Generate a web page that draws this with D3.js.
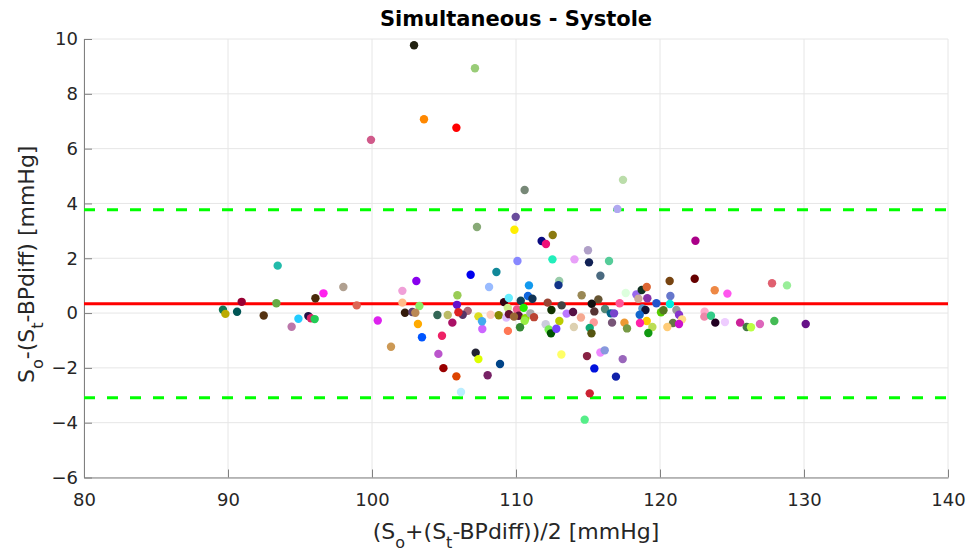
<!DOCTYPE html>
<html>
<head>
<meta charset="utf-8">
<script src="https://cdn.jsdelivr.net/npm/d3@7"></script>
<style>
  html, body { margin: 0; padding: 0; background: #ffffff; }
  svg { display: block; font-family: "DejaVu Sans", "Liberation Sans", Arial, sans-serif; }
</style>
</head>
<body>
<svg id="chart" width="973" height="555"></svg>
<script>
// ---------------- data ----------------
const chartTitle = "Simultaneous - Systole";
const xTicks = [80, 90, 100, 110, 120, 130, 140];
const yTicks = [-6, -4, -2, 0, 2, 4, 6, 8, 10];
const meanDiff = 0.34;
const upperLoA = 3.77;
const lowerLoA = -3.09;

const meanX = [
  102.92, 107.15, 103.61, 105.86, 99.93, 117.43, 110.60, 117.04, 109.98, 109.89,
  112.55, 111.78, 112.08, 115.00, 110.10, 112.53, 114.06, 115.07, 116.46, 108.64,
  115.86, 113.00, 112.95, 107.29, 106.85, 108.13, 98.01, 96.07, 96.63, 98.94,
  103.08, 102.11, 102.11, 103.29, 102.29, 102.80, 103.01, 103.19, 103.47, 101.32,
  100.40, 94.89, 95.58, 95.76, 96.02, 94.42, 104.54, 105.26, 105.58, 104.86,
  104.61, 104.96, 105.86, 106.18, 105.93, 105.90, 106.65, 106.30, 107.39, 107.20,
  107.39, 108.89, 108.03, 107.66, 107.64, 108.24, 108.80, 109.33, 109.44, 109.17,
  109.50, 109.43, 110.90, 110.83, 111.14, 110.33, 110.07, 110.53, 109.51, 110.19,
  109.86, 110.65, 110.60, 111.00, 111.25, 110.28, 112.20, 112.46, 113.17, 114.56,
  115.72, 115.26, 113.52, 113.96, 114.51, 115.44, 116.18, 112.06, 113.01, 112.27,
  112.43, 112.80, 114.02, 115.40, 115.12, 115.24, 113.15, 114.93, 115.86, 116.16,
  115.44, 115.12, 114.77, 116.94, 117.41, 122.46, 122.41, 120.67, 123.80, 117.62,
  118.36, 118.50, 118.73, 119.08, 119.12, 119.75, 120.72, 120.69, 117.20, 118.78,
  118.99, 116.58, 116.81, 116.67, 117.53, 117.71, 118.59, 119.08, 118.61, 119.47,
  119.19, 120.07, 120.24, 121.14, 121.32, 121.53, 120.90, 121.32, 120.51, 123.10,
  123.08, 123.54, 123.84, 127.78, 128.82, 124.68, 124.51, 125.56, 126.02, 126.32,
  126.94, 127.94, 130.12, 93.45, 90.95, 89.65, 89.82, 90.63, 92.48, 93.36,
  106.00
];

const diffY = [
  9.77, 8.93, 7.07, 6.76, 6.32, 4.86, 4.49, 3.80, 3.51, 3.04,
  2.85, 2.63, 2.52, 2.29, 1.90, 1.96, 1.96, 1.85, 1.90, 1.50,
  1.36, 1.17, 1.02, 3.14, 1.40, 0.95, 0.95, 0.54, 0.72, 0.28,
  1.17, 0.81, 0.38, 0.26, 0.01, 0.04, 0.01, -0.40, -0.88, -1.23,
  -0.27, -0.21, -0.11, -0.19, -0.22, -0.50, -0.07, -0.07, -0.35, -0.83,
  -1.49, -2.01, -2.31, -2.88, 0.65, 0.30, 0.08, -0.06, -0.12, -1.45,
  -1.68, -1.86, -2.27, -0.58, -0.30, -0.06, -0.08, -0.16, -0.65, 0.40,
  0.55, 0.19, 1.01, 0.62, 0.52, 0.45, 0.13, 0.19, -0.04, -0.10,
  -0.13, -0.19, -0.28, -0.01, -0.15, -0.52, 0.38, 0.11, 0.28, 0.65,
  0.50, 0.34, -0.02, 0.04, -0.16, 0.06, 0.15, -0.41, -0.29, -0.60,
  -0.74, -0.57, -0.51, -0.34, -0.54, -0.74, -1.51, -1.57, -1.44, -1.36,
  -2.02, -2.93, -3.89, -2.32, -1.68, 2.64, 1.25, 1.17, 0.83, 0.73,
  0.68, 0.52, 0.84, 0.95, 0.54, 0.36, 0.62, 0.33, 0.36, 0.17,
  0.11, -0.01, -0.01, -0.35, -0.35, -0.56, -0.06, -0.29, -0.36, -0.51,
  -0.73, 0.03, 0.10, 0.11, -0.06, -0.23, -0.36, -0.40, -0.51, 0.05,
  -0.13, -0.10, -0.35, 1.09, 1.01, 0.71, -0.33, -0.35, -0.51, -0.52,
  -0.40, -0.29, -0.40, 1.73, 0.41, 0.12, -0.03, 0.05, -0.09, 0.36,
  0.03
];

const pointColors = [
  "#222211", "#99cc77", "#ff8800", "#ff0000", "#d05a8a", "#bbddaa", "#778877", "#b0a8f0", "#6a4c9c", "#ffee00",
  "#8b7a10", "#0a0a80", "#ee1177", "#b0a0c8", "#8888ff", "#22eebb", "#e8a0f8", "#112255", "#55cc99", "#118899",
  "#4a6a80", "#99ccaa", "#113388", "#88aa77", "#0000ee", "#99bbff", "#b0a090", "#4a2a0a", "#ff22ee", "#dd6655",
  "#8800ee", "#f0a0d8", "#ffbb88", "#88ee66", "#331a0a", "#5a4070", "#bb8855", "#ffaa00", "#0055ff", "#cc9955",
  "#dd22ee", "#22ccff", "#221144", "#dd2266", "#22cc55", "#bb77aa", "#336655", "#bbbb66", "#aa1166", "#ee2266",
  "#bb55cc", "#990000", "#dd4400", "#bbeeff", "#99cc55", "#6611cc", "#aa6677", "#553366", "#dddd22", "#222233",
  "#ddff00", "#004488", "#772266", "#cc66ff", "#44aaee", "#ffccbb", "#888800", "#ddbbff", "#ff7755", "#330011",
  "#66eeff", "#ccee88", "#1199ee", "#1166dd", "#113355", "#114455", "#ee5588", "#22ee00", "#661133", "#551133",
  "#996633", "#88dd00", "#99ee44", "#aaaaaa", "#bb4433", "#338833", "#994433", "#113300", "#444444", "#998855",
  "#665533", "#111111", "#bb77ff", "#551144", "#f5a890", "#553333", "#558877", "#ccccdd", "#bbcc00", "#77ee55",
  "#005500", "#7744ff", "#ddd0b0", "#ff9999", "#11aa77", "#555511", "#ffff66", "#882244", "#ee88ff", "#8899dd",
  "#0011dd", "#cc2233", "#55ee88", "#1122aa", "#9966bb", "#aa0088", "#660000", "#774411", "#ee8844", "#ddffdd",
  "#9966ee", "#ccaa99", "#113322", "#dd6633", "#8833aa", "#2255cc", "#6677cc", "#00eedd", "#ff5599", "#5599cc",
  "#111133", "#006688", "#7744cc", "#775577", "#ee9933", "#779944", "#1166cc", "#ffcc00", "#ff22aa", "#bbdd55",
  "#119911", "#55cc00", "#557722", "#999999", "#8833cc", "#ffdd88", "#667744", "#cc11cc", "#ffcc77", "#ffaacc",
  "#ee88aa", "#33cc88", "#220022", "#e06070", "#99ee99", "#ff55ee", "#eeccff", "#cc2299", "#447744", "#bbff44",
  "#dd66bb", "#44bb55", "#661188", "#22bbaa", "#990033", "#117755", "#bbaa00", "#005555", "#553311", "#66aa44",
  "#dd2222"
];

// ---------------- layout ----------------
const svg = d3.select("#chart");
const W = 973, H = 555;
const margin = { left: 84, right: W - 948, top: 39, bottom: H - 477.5 };
const x = d3.scaleLinear().domain([80, 140]).range([margin.left, W - margin.right]);
const y = d3.scaleLinear().domain([-6, 10]).range([H - margin.bottom, margin.top]);

const gridColor = "#e6e6e6";
const axisColor = "#808080";
const textColor = "#262626";
const fontFam = "'DejaVu Sans', 'Liberation Sans', Arial, sans-serif";

// grid
const grid = svg.append("g");
grid.selectAll("line.gx").data(xTicks).join("line")
  .attr("x1", d => x(d)).attr("x2", d => x(d))
  .attr("y1", y(-6)).attr("y2", y(10))
  .attr("stroke", gridColor).attr("stroke-width", 1);
grid.selectAll("line.gy").data(yTicks).join("line")
  .attr("x1", x(80)).attr("x2", x(140))
  .attr("y1", d => y(d)).attr("y2", d => y(d))
  .attr("stroke", gridColor).attr("stroke-width", 1);

// axes
const xAxis = svg.append("g").attr("transform", `translate(0,${y(-6)})`)
  .call(d3.axisBottom(x).tickValues(xTicks).tickSizeInner(-8).tickSizeOuter(0).tickPadding(13));
const yAxis = svg.append("g").attr("transform", `translate(${x(80)},0)`)
  .call(d3.axisLeft(y).tickValues(yTicks).tickSizeInner(-8).tickSizeOuter(0).tickPadding(6));
[xAxis, yAxis].forEach(g => {
  g.select(".domain").attr("stroke", axisColor).attr("stroke-width", 1);
  g.selectAll(".tick line").attr("stroke", axisColor);
  g.selectAll(".tick text").attr("fill", textColor)
    .style("font-size", "18px").style("font-family", fontFam);
});
xAxis.selectAll(".tick text").attr("dy", "0.85em");

// reference lines (limits of agreement, mean)
[upperLoA, lowerLoA].forEach(v => {
  svg.append("line")
    .attr("x1", x(80)).attr("x2", x(140))
    .attr("y1", y(v)).attr("y2", y(v))
    .attr("stroke", "#00ff00").attr("stroke-width", 3).attr("stroke-dasharray", "11,12");
});
svg.append("line")
  .attr("x1", x(80)).attr("x2", x(140))
  .attr("y1", y(meanDiff)).attr("y2", y(meanDiff))
  .attr("stroke", "#ff0000").attr("stroke-width", 3);

// points
const pts = meanX.map((v, i) => ({ x: v, y: diffY[i], c: pointColors[i] }));
svg.append("g").selectAll("circle").data(pts).join("circle")
  .attr("cx", d => x(d.x)).attr("cy", d => y(d.y)).attr("r", 4.2)
  .attr("fill", d => d.c);

// title
svg.append("text")
  .attr("x", (x(80) + x(140)) / 2).attr("y", 26)
  .attr("text-anchor", "middle").attr("fill", "#000")
  .style("font-family", fontFam)
  .style("font-size", "21px").style("font-weight", "bold")
  .text(chartTitle);

// x label
const xl = svg.append("text")
  .attr("x", (x(80) + x(140)) / 2).attr("y", 539)
  .attr("text-anchor", "middle").attr("fill", textColor)
  .style("font-family", fontFam)
  .style("font-size", "22px");
xl.append("tspan").text("(S");
xl.append("tspan").attr("dy", 9).style("font-size", "16px").text("o");
xl.append("tspan").attr("dy", -9).text("+(S");
xl.append("tspan").attr("dy", 9).style("font-size", "16px").text("t");
xl.append("tspan").attr("dy", -9).text("-BPdiff))/2 [mmHg]");

// y label
const yl = svg.append("text")
  .attr("transform", `translate(34,${(y(-6) + y(10)) / 2 + 6}) rotate(-90)`)
  .attr("text-anchor", "middle").attr("fill", textColor)
  .style("font-family", fontFam)
  .style("font-size", "22px");
yl.append("tspan").text("S");
yl.append("tspan").attr("dy", 9).style("font-size", "16px").text("o");
yl.append("tspan").attr("dy", -9).text("-(S");
yl.append("tspan").attr("dy", 9).style("font-size", "16px").text("t");
yl.append("tspan").attr("dy", -9).text("-BPdiff) [mmHg]");
</script>
</body>
</html>
